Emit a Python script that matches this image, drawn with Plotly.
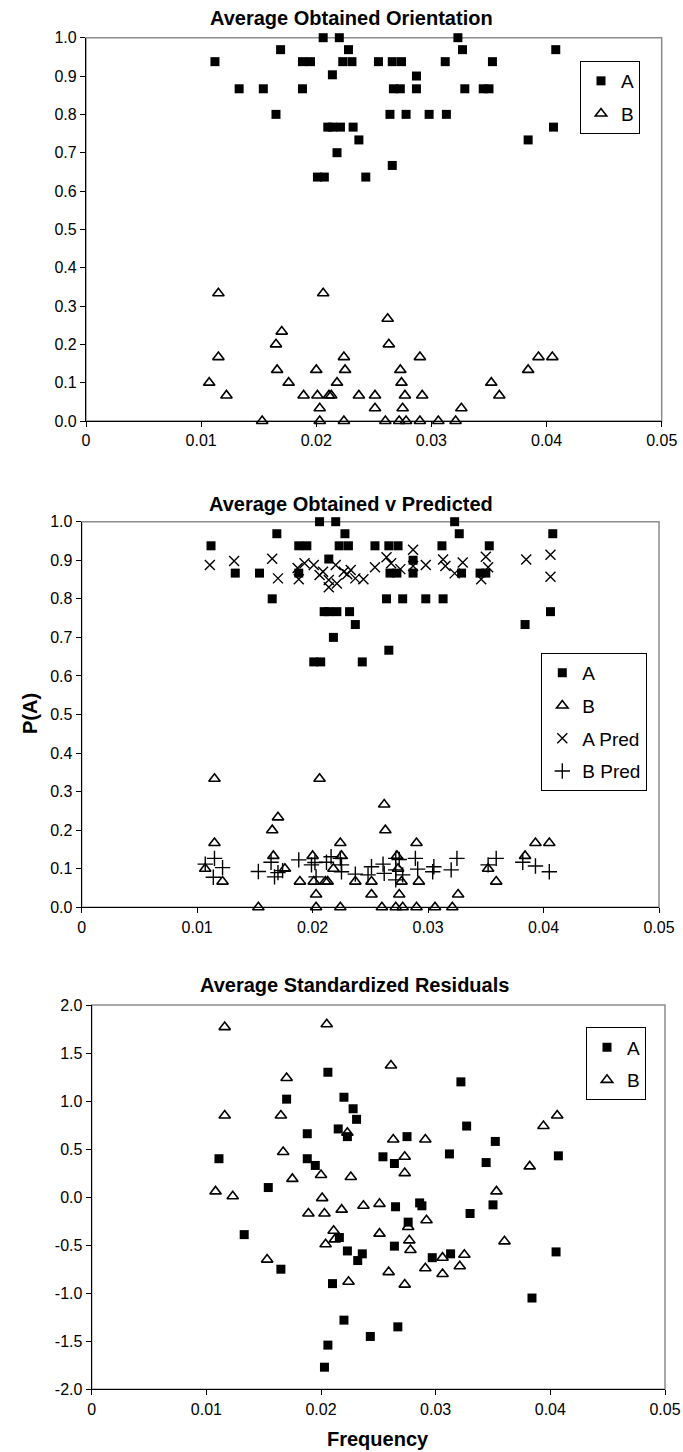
import plotly.graph_objects as go

# ---------------- data ----------------
A_x = [0.0112, 0.0169, 0.0133, 0.0154, 0.0165, 0.0188, 0.0195, 0.0188, 0.0206, 0.0220,
       0.0214, 0.0228, 0.0223, 0.0231, 0.0254, 0.0210, 0.0214, 0.0221, 0.0232, 0.0237,
       0.0218, 0.0201, 0.0207, 0.0243, 0.0323, 0.0327, 0.0408, 0.0266, 0.0274, 0.0312,
       0.0353, 0.0287, 0.0267, 0.0273, 0.0287, 0.0329, 0.0345, 0.0350, 0.0264, 0.0278,
       0.0298, 0.0313, 0.0406, 0.0384, 0.0266]
A_y = [0.9375, 0.9688, 0.8667, 0.8667, 0.8, 0.9375, 0.9375, 0.8667, 1.0, 1.0,
       0.9032, 0.9688, 0.9375, 0.9375, 0.9375, 0.7667, 0.7667, 0.7667, 0.7667, 0.7333,
       0.7, 0.6364, 0.6364, 0.6364, 1.0, 0.9688, 0.9688, 0.9375, 0.9375, 0.9375,
       0.9375, 0.9, 0.8667, 0.8667, 0.8667, 0.8667, 0.8667, 0.8667, 0.8, 0.8,
       0.8, 0.8, 0.7667, 0.7333, 0.6667]

B_x = [0.0115, 0.0115, 0.0107, 0.0122, 0.0153, 0.0206, 0.0170, 0.0165, 0.0166, 0.0176,
       0.0189, 0.0200, 0.0201, 0.0203, 0.0203, 0.0211, 0.0213, 0.0218, 0.0224, 0.0225,
       0.0224, 0.0237, 0.0251, 0.0251, 0.0262, 0.0263, 0.0290, 0.0273, 0.0274, 0.0277,
       0.0292, 0.0275, 0.0260, 0.0272, 0.0278, 0.0290, 0.0306, 0.0321, 0.0326, 0.0352,
       0.0359, 0.0384, 0.0393, 0.0405]
B_y = [0.3333, 0.1667, 0.1, 0.0667, 0.0, 0.3333, 0.2333, 0.2, 0.1333, 0.1,
       0.0667, 0.1333, 0.0667, 0.0333, 0.0, 0.0667, 0.0667, 0.1, 0.1667, 0.1333,
       0.0, 0.0667, 0.0667, 0.0333, 0.2667, 0.2, 0.1667, 0.1333, 0.1, 0.0667,
       0.0667, 0.0333, 0.0, 0.0, 0.0, 0.0, 0.0, 0.0, 0.0333, 0.1,
       0.0667, 0.1333, 0.1667, 0.1667]

AP_x = [0.0111, 0.0132, 0.0165, 0.0170, 0.0188, 0.0187, 0.0193, 0.0201, 0.0206, 0.0209,
        0.0214, 0.0214, 0.0221, 0.0220, 0.0227, 0.0230, 0.0233, 0.0237, 0.0244, 0.0254,
        0.0264, 0.0268, 0.0276, 0.0287, 0.0287, 0.0298, 0.0313, 0.0315, 0.0323, 0.0330,
        0.0350, 0.0352, 0.0346, 0.0385, 0.0406, 0.0406]
AP_y = [0.888, 0.898, 0.904, 0.853, 0.851, 0.880, 0.892, 0.888, 0.862, 0.870,
        0.849, 0.830, 0.840, 0.888, 0.870, 0.864, 0.875, 0.853, 0.851, 0.882,
        0.908, 0.892, 0.877, 0.927, 0.885, 0.888, 0.902, 0.885, 0.866, 0.894,
        0.909, 0.882, 0.851, 0.902, 0.914, 0.857]

BP_x = [0.0107, 0.0115, 0.0122, 0.0114, 0.0153, 0.0164, 0.0167, 0.0170, 0.0174, 0.0188,
        0.0199, 0.0202, 0.0203, 0.0212, 0.0216, 0.0224, 0.0225, 0.0225, 0.0237, 0.0248,
        0.0251, 0.0261, 0.0262, 0.0272, 0.0275, 0.0272, 0.0272, 0.0278, 0.0289, 0.0291,
        0.0305, 0.0304, 0.0320, 0.0325, 0.0352, 0.0359, 0.0382, 0.0393, 0.0405]
BP_y = [0.112, 0.127, 0.103, 0.078, 0.093, 0.117, 0.079, 0.090, 0.095, 0.123,
        0.110, 0.116, 0.079, 0.117, 0.131, 0.127, 0.110, 0.092, 0.086, 0.084,
        0.105, 0.112, 0.088, 0.127, 0.124, 0.097, 0.071, 0.084, 0.127, 0.099,
        0.105, 0.092, 0.097, 0.127, 0.110, 0.127, 0.117, 0.107, 0.092]

RA_x = [0.0206, 0.0170, 0.0220, 0.0228, 0.0231, 0.0188, 0.0215, 0.0223, 0.0111, 0.0188,
        0.0195, 0.0322, 0.0327, 0.0352, 0.0312, 0.0407, 0.0275, 0.0254, 0.0264, 0.0344,
        0.0154, 0.0133, 0.0165, 0.0216, 0.0223, 0.0236, 0.0232, 0.0210, 0.0220, 0.0206,
        0.0203, 0.0243, 0.0265, 0.0286, 0.0288, 0.0276, 0.0330, 0.0350, 0.0264, 0.0297,
        0.0313, 0.0405, 0.0384, 0.0267]
RA_y = [1.30, 1.02, 1.04, 0.92, 0.81, 0.66, 0.71, 0.63, 0.40, 0.40,
        0.33, 1.20, 0.74, 0.58, 0.45, 0.43, 0.63, 0.42, 0.35, 0.36,
        0.10, -0.39, -0.75, -0.42, -0.56, -0.59, -0.66, -0.90, -1.28, -1.54,
        -1.77, -1.45, -0.10, -0.06, -0.09, -0.26, -0.17, -0.08, -0.51, -0.63,
        -0.59, -0.57, -1.05, -1.35]

RB_x = [0.0116, 0.0205, 0.0170, 0.0116, 0.0165, 0.0223, 0.0167, 0.0261, 0.0394, 0.0406,
        0.0263, 0.0291, 0.0273, 0.0273, 0.0382, 0.0353, 0.0175, 0.0200, 0.0226, 0.0108,
        0.0123, 0.0201, 0.0189, 0.0203, 0.0218, 0.0237, 0.0251, 0.0211, 0.0212, 0.0204,
        0.0153, 0.0224, 0.0251, 0.0292, 0.0276, 0.0277, 0.0278, 0.0360, 0.0306, 0.0325,
        0.0321, 0.0259, 0.0291, 0.0306, 0.0273]
RB_y = [1.77, 1.80, 1.24, 0.85, 0.85, 0.67, 0.47, 1.37, 0.74, 0.85,
        0.60, 0.60, 0.42, 0.25, 0.32, 0.06, 0.19, 0.23, 0.21, 0.06,
        0.01, -0.01, -0.17, -0.17, -0.13, -0.09, -0.07, -0.35, -0.44, -0.49,
        -0.65, -0.88, -0.38, -0.24, -0.31, -0.45, -0.55, -0.46, -0.63, -0.60,
        -0.72, -0.78, -0.74, -0.80, -0.91]

x_ticks = [0, 0.01, 0.02, 0.03, 0.04, 0.05]
x_ticklabels = ["0", "0.01", "0.02", "0.03", "0.04", "0.05"]
p_ticks = [0.0, 0.1, 0.2, 0.3, 0.4, 0.5, 0.6, 0.7, 0.8, 0.9, 1.0]
p_ticklabels = ["0.0", "0.1", "0.2", "0.3", "0.4", "0.5", "0.6", "0.7", "0.8", "0.9", "1.0"]
r_ticks = [-2.0, -1.5, -1.0, -0.5, 0.0, 0.5, 1.0, 1.5, 2.0]
r_ticklabels = ["-2.0", "-1.5", "-1.0", "-0.5", "0.0", "0.5", "1.0", "1.5", "2.0"]

titles = ["Average Obtained Orientation", "Average Obtained v Predicted",
          "Average Standardized Residuals"]

# ---------------- layout helpers ----------------
W, H = 683, 1452
FONT = "Liberation Sans, Arial, sans-serif"


def px_x(v):
    return v / W


def px_y(v):
    return 1 - v / H


SQ = dict(symbol="square", size=9, color="black", line=dict(width=0))
TRI = dict(symbol="triangle-up-open", size=10, color="black", line=dict(width=1.6, color="black"))
XM = dict(symbol="x-thin-open", size=10, color="black", line=dict(width=1.4, color="black"))
PM = dict(symbol="cross-thin-open", size=11, color="black", line=dict(width=1.4, color="black"))

fig = go.Figure()


def add(x, y, name, marker, ax, legend):
    fig.add_trace(go.Scatter(x=x, y=y, mode="markers", name=name, marker=marker,
                             xaxis="x" + ax, yaxis="y" + ax, legend=legend,
                             legendgroup=legend + name, cliponaxis=False,
                             hoverinfo="x+y"))


add(A_x, A_y, "A", SQ, "", "legend")
add(B_x, B_y, "B", TRI, "", "legend")
add(A_x, A_y, "A", SQ, "2", "legend2")
add(B_x, B_y, "B", TRI, "2", "legend2")
add(AP_x, AP_y, "A Pred", XM, "2", "legend2")
add(BP_x, BP_y, "B Pred", PM, "2", "legend2")
add(RA_x, RA_y, "A", SQ, "3", "legend3")
add(RB_x, RB_y, "B", TRI, "3", "legend3")

# panel geometry (pixels): left, right, top, bottom
panels = [(86.0, 661.7, 37.7, 421.0), (81.7, 659.0, 521.7, 907.3), (91.7, 665.0, 1005.0, 1389.3)]


def xaxis_cfg(p):
    l, r, t, b = p
    return dict(domain=[px_x(l), px_x(r)], range=[0, 0.05], tickvals=x_ticks,
                ticktext=x_ticklabels, showgrid=False, zeroline=False, showline=True,
                linecolor="black", linewidth=1.2, ticks="outside", ticklen=5,
                tickcolor="black", tickwidth=1, automargin=False,
                tickfont=dict(family=FONT, size=16, color="black"))


def yaxis_cfg(p, rng, tv, tt, anchor):
    l, r, t, b = p
    return dict(domain=[px_y(b), px_y(t)], range=rng, tickvals=tv, ticktext=tt,
                showgrid=False, zeroline=False, showline=True, linecolor="black",
                linewidth=1.2, ticks="outside", ticklen=5, tickcolor="black", tickwidth=1,
                automargin=False, anchor=anchor,
                tickfont=dict(family=FONT, size=16, color="black"))


def legend_cfg(right, top):
    return dict(x=px_x(right), y=px_y(top), xanchor="right", yanchor="top",
                bordercolor="black", borderwidth=1, bgcolor="white",
                font=dict(family=FONT, size=19, color="black"), tracegroupgap=5,
                itemwidth=30)


shapes = []
for i, ax in enumerate(["x", "x2", "x3"]):
    yax = ax.replace("x", "y")
    shapes.append(dict(type="rect", xref=ax + " domain", yref=yax + " domain",
                       x0=0, x1=1, y0=0, y1=1, layer="below",
                       line=dict(color="#8c8c8c", width=1.5)))

annotations = []
title_pos = [(351, 18.3), (351, 504), (354, 985)]
for txt, (cx, cy) in zip(titles, title_pos):
    annotations.append(dict(text="<b>" + txt + "</b>", x=px_x(cx), y=px_y(cy), xref="paper",
                            yref="paper", showarrow=False, xanchor="center", yanchor="middle",
                            font=dict(family=FONT, size=20, color="black")))
annotations.append(dict(text="<b>P(A)</b>", x=px_x(30), y=px_y(714), xref="paper", yref="paper",
                        showarrow=False, textangle=-90, xanchor="center", yanchor="middle",
                        font=dict(family=FONT, size=20, color="black")))
annotations.append(dict(text="<b>Frequency</b>", x=px_x(378), y=px_y(1439), xref="paper",
                        yref="paper", showarrow=False, xanchor="center", yanchor="middle",
                        font=dict(family=FONT, size=20, color="black")))

fig.update_layout(
    width=W, height=H, template="none",
    margin=dict(l=0, r=0, t=0, b=0, autoexpand=False),
    paper_bgcolor="white", plot_bgcolor="white",
    font=dict(family=FONT, color="black"),
    showlegend=True,
    xaxis=xaxis_cfg(panels[0]), xaxis2=xaxis_cfg(panels[1]), xaxis3=xaxis_cfg(panels[2]),
    yaxis=yaxis_cfg(panels[0], [0, 1], p_ticks, p_ticklabels, "x"),
    yaxis2=yaxis_cfg(panels[1], [0, 1], p_ticks, p_ticklabels, "x2"),
    yaxis3=yaxis_cfg(panels[2], [-2, 2], r_ticks, r_ticklabels, "x3"),
    legend=legend_cfg(640, 61), legend2=legend_cfg(647.3, 653), legend3=legend_cfg(646, 1027.3),
    shapes=shapes, annotations=annotations,
)
fig.update_layout(xaxis=dict(anchor="y"), xaxis2=dict(anchor="y2"), xaxis3=dict(anchor="y3"))

fig.write_html("out.html",
               config={"displayModeBar": False},
               post_script="document.body.style.margin='0';"
                           "document.body.style.overflow='hidden';")
